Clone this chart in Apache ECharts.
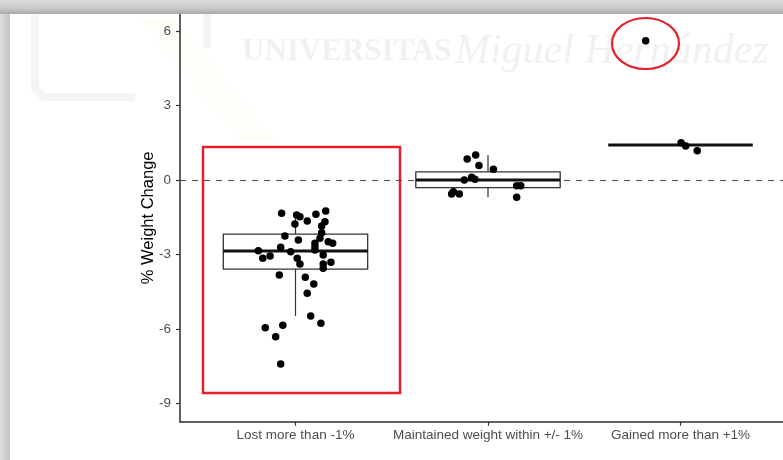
<!DOCTYPE html>
<html><head><meta charset="utf-8">
<script src="https://cdn.jsdelivr.net/npm/echarts@6/dist/echarts.min.js"></script>
<style>html,body{margin:0;padding:0;background:#fff;}#c{width:783px;height:460px;}</style>
</head><body><div id="c"></div>
<script>
// ---- data ----
const categories = ['Lost more than -1%', 'Maintained weight within +/- 1%', 'Gained more than +1%'];
const yTicks = [-9, -6, -3, 0, 3, 6];

// boxplot summary per category
const boxLow    = [-5.48, -0.70, 1.41];
const boxQ1     = [-3.59, -0.31, 1.41];
const boxMedian = [-2.86,  0.00, 1.41];
const boxQ3     = [-2.18,  0.33, 1.41];
const boxHigh   = [-1.35,  1.01, 1.41];

// jittered individual points (value, horizontal jitter in category units)
const lostValues = [-1.34,-1.41,-1.48,-1.65,-1.38,-1.25,-1.77,-1.68,-1.85,-2.13,-2.26,-2.35,-2.42,-2.49,-2.55,-2.55,-2.69,-2.71,-2.85,-2.89,-2.82,-3.16,-3.06,-3.02,-3.16,-3.39,-3.39,-3.32,-3.56,-3.83,-3.92,-4.19,-4.57,-5.48,-5.78,-5.96,-5.86,-6.32,-7.42];
const lostJitter = [-0.072,0.006,0.023,0.061,0.106,0.157,-0.003,0.153,0.136,0.136,-0.055,0.127,0.015,0.170,0.193,0.101,0.101,-0.077,-0.193,-0.025,0.101,-0.170,-0.132,0.144,0.009,0.023,0.144,0.184,0.144,-0.084,0.051,0.095,0.061,0.079,0.132,-0.157,-0.066,-0.103,-0.077];
const maintValues = [1.01,0.85,0.58,0.43,0.11,0.03,0.00,-0.47,-0.56,-0.56,-0.23,-0.23,-0.70];
const maintJitter = [-0.064,-0.108,-0.047,0.028,-0.085,-0.068,-0.123,-0.180,-0.149,-0.189,0.149,0.170,0.149];
const gainValues = [1.50,1.37,1.18,5.62];
const gainJitter = [0.003,0.027,0.087,-0.181];

// ---- build ----
const groups = [[lostValues, lostJitter], [maintValues, maintJitter], [gainValues, gainJitter]];
const points = [];
groups.forEach((g, gi) => g[0].forEach((v, i) => points.push([gi + g[1][i], v])));
const boxData = categories.map((c, i) => [i, boxLow[i], boxQ1[i], boxMedian[i], boxQ3[i], boxHigh[i]]);

const FONT = 'Liberation Sans, Arial, sans-serif';
const chart = echarts.init(document.getElementById('c'), null, {renderer: 'canvas'});
chart.setOption({
  animation: false,
  backgroundColor: '#fff',
  grid: {left: 180, top: 14, width: 603, height: 407.7, containLabel: false},
  xAxis: {
    type: 'value', min: -0.6, max: 2.5325,
    splitLine: {show: false},
    axisLine: {show: true, onZero: false, lineStyle: {color: '#2b2b2b', width: 1.5}},
    axisTick: {show: true, length: 4, lineStyle: {color: '#333', width: 1.2}, customValues: [0, 1, 2]},
    axisLabel: {customValues: [0, 1, 2], formatter: v => categories[Math.round(v)], color: '#4d4d4d', fontSize: 13.5, fontFamily: FONT, margin: 7}
  },
  yAxis: {
    type: 'value', min: -9.746, max: 6.694,
    name: '% Weight Change', nameLocation: 'middle', nameGap: 23, nameMoveOverlap: false,
    nameTextStyle: {color: '#000', fontSize: 16.5, fontFamily: FONT},
    splitLine: {show: false},
    axisLine: {show: true, onZero: false, lineStyle: {color: '#2b2b2b', width: 1.5}},
    axisTick: {show: true, length: 4, lineStyle: {color: '#333', width: 1.2}, customValues: yTicks},
    axisLabel: {customValues: yTicks, color: '#4d4d4d', fontSize: 13.5, fontFamily: FONT, margin: 9}
  },
  series: [
    {
      type: 'custom', z: 10,
      data: boxData,
      encode: {x: 0, y: [1, 2, 3, 4, 5]},
      renderItem: function (params, api) {
        const i = api.value(0);
        const half = 0.375;
        const pLow = api.coord([i, api.value(1)]);
        const pQ1 = api.coord([i, api.value(2)]);
        const pMed = api.coord([i, api.value(3)]);
        const pQ3 = api.coord([i, api.value(4)]);
        const pHigh = api.coord([i, api.value(5)]);
        const left = api.coord([i - half, 0])[0];
        const right = api.coord([i + half, 0])[0];
        const ls = {stroke: '#333', lineWidth: 1.2};
        return {type: 'group', children: [
          {type: 'line', shape: {x1: pLow[0], y1: pLow[1], x2: pQ1[0], y2: pQ1[1]}, style: ls},
          {type: 'line', shape: {x1: pQ3[0], y1: pQ3[1], x2: pHigh[0], y2: pHigh[1]}, style: ls},
          {type: 'rect', shape: {x: left, y: pQ3[1], width: right - left, height: pQ1[1] - pQ3[1]}, style: {fill: '#fff', stroke: '#333', lineWidth: 1.3}},
          {type: 'line', shape: {x1: left, y1: pMed[1], x2: right, y2: pMed[1]}, style: {stroke: '#111', lineWidth: 3}}
        ]};
      },
      markLine: {
        silent: true, symbol: 'none', z: 1,
        data: [{yAxis: 0}],
        label: {show: false},
        lineStyle: {type: [6, 6], color: '#555', width: 1.1}
      }
    },
    {
      type: 'scatter', z: 12,
      data: points,
      symbolSize: 7.5,
      itemStyle: {color: '#000', opacity: 1}
    }
  ],
  graphic: [
    // faint watermark logo & text
    {type: 'polyline', z: -10, silent: true, shape: {points: [[35, 14], [35, 88], [44, 97], [135, 97]]}, style: {stroke: '#f4f4f4', lineWidth: 8, fill: null}},
    {type: 'line', z: -10, silent: true, shape: {x1: 207, y1: 14, x2: 207, y2: 48}, style: {stroke: '#f5f5f5', lineWidth: 8}},
    {type: 'polygon', z: -10, silent: true, shape: {points: [[140, 20], [175, 20], [275, 140], [240, 140]]}, style: {fill: '#fefdf8'}},
    {type: 'text', z: -10, silent: true, style: {x: 242, y: 31, text: '{a|UNIVERSITAS} {b|Miguel Hernández}', rich: {
      a: {fontFamily: 'Liberation Serif, serif', fontWeight: 'bold', fontSize: 31, fill: '#f1f1f1'},
      b: {fontFamily: 'Liberation Serif, serif', fontStyle: 'italic', fontSize: 42, fill: '#f1f1f1'}
    }}},
    // red annotations
    {type: 'rect', z: 100, silent: true, shape: {x: 203, y: 147, width: 197, height: 246}, style: {fill: null, stroke: '#e5202a', lineWidth: 2.5}},
    {type: 'ellipse', z: 100, silent: true, shape: {cx: 645.5, cy: 43.5, rx: 33.5, ry: 25.5}, style: {fill: null, stroke: '#e5202a', lineWidth: 2.2}},
    // window frame bands
    {type: 'rect', z: 100, silent: true, shape: {x: 0, y: 0, width: 783, height: 14}, style: {fill: new echarts.graphic.LinearGradient(0, 0, 0, 1, [{offset: 0, color: '#dcdcdc'}, {offset: 0.6, color: '#c8c8c8'}, {offset: 1, color: '#a9a9a9'}])}},
    {type: 'rect', z: 100, silent: true, shape: {x: 0, y: 14, width: 10, height: 446}, style: {fill: new echarts.graphic.LinearGradient(0, 0, 1, 0, [{offset: 0, color: '#dedede'}, {offset: 0.5, color: '#d2d2d2'}, {offset: 1, color: '#c4c4c4'}])}}
  ]
});
</script></body></html>
